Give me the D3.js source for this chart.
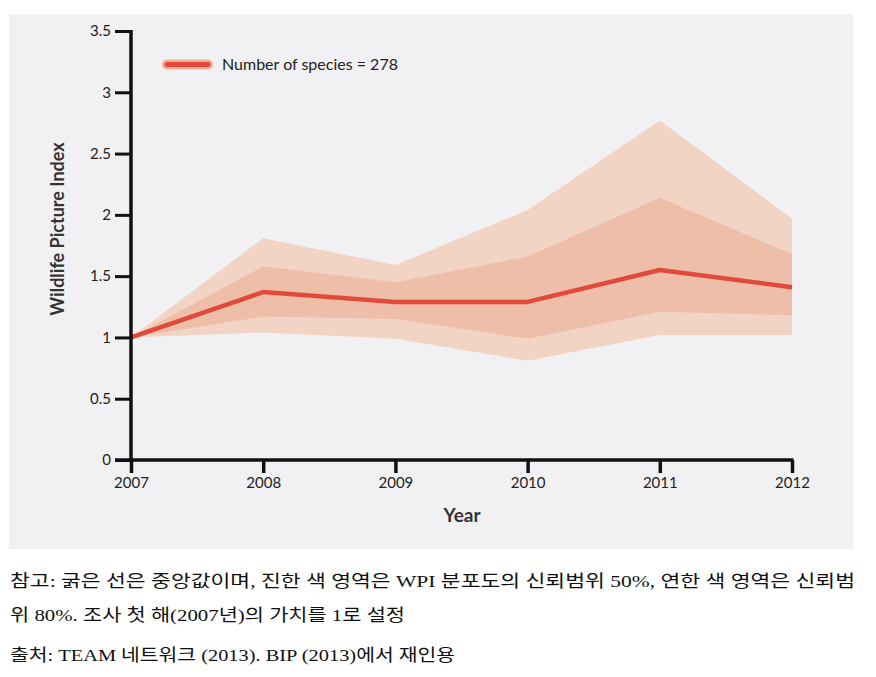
<!DOCTYPE html>
<html><head><meta charset="utf-8">
<script src="https://cdn.jsdelivr.net/npm/d3@7"></script>
<style>body{margin:0;background:#fff}svg{display:block}</style>
</head><body>
<svg id="c" width="876" height="677"></svg>
<script>
const years = [2007, 2008, 2009, 2010, 2011, 2012];
const median = [1.0, 1.37, 1.29, 1.29, 1.55, 1.41];
const inner50Low = [1.0, 1.17, 1.15, 0.99, 1.21, 1.18];
const inner50High = [1.0, 1.58, 1.45, 1.66, 2.14, 1.68];
const outer80Low = [1.0, 1.04, 0.99, 0.81, 1.02, 1.02];
const outer80High = [1.0, 1.81, 1.59, 2.04, 2.77, 1.97];
const yTicks = [0, 0.5, 1, 1.5, 2, 2.5, 3, 3.5];
const yTickLabels = ["0", "0.5", "1", "1.5", "2", "2.5", "3", "3.5"];
const legendLabel = "Number of species = 278";
const xTitle = "Year";
const yTitle = "Wildlife Picture Index";
const notes = [
  "참고: 굵은 선은 중앙값이며, 진한 색 영역은 WPI 분포도의 신뢰범위 50%, 연한 색 영역은 신뢰범",
  "위 80%. 조사 첫 해(2007년)의 가치를 1로 설정",
  "출처: TEAM 네트워크 (2013). BIP (2013)에서 재인용"
];

const svg = d3.select("#c");
const chartFont = "Lato, 'DejaVu Sans', sans-serif";
svg.append("rect").attr("x", 9).attr("y", 14).attr("width", 844).attr("height", 535).attr("fill", "#f1f1f3");

const x = d3.scaleLinear().domain([2007, 2012]).range([131, 792]);
const y = d3.scaleLinear().domain([0, 3.5]).range([460, 31]);

const data = years.map((yr, i) => ({yr, m: median[i], il: inner50Low[i], ih: inner50High[i], ol: outer80Low[i], oh: outer80High[i]}));

svg.append("path").datum(data).attr("fill", "#f2d4c5")
  .attr("d", d3.area().x(d => x(d.yr)).y0(d => y(d.ol)).y1(d => y(d.oh)));
svg.append("path").datum(data).attr("fill", "#efbea9")
  .attr("d", d3.area().x(d => x(d.yr)).y0(d => y(d.il)).y1(d => y(d.ih)));
svg.append("path").datum(data).attr("fill", "none").attr("stroke", "#e14a3a").attr("stroke-width", 4.5)
  .attr("stroke-linejoin", "round")
  .attr("d", d3.line().x(d => x(d.yr)).y(d => y(d.m)));

// y axis
const ya = svg.append("g").attr("transform", "translate(131,0)")
  .call(d3.axisLeft(y).tickValues(yTicks).tickFormat((d, i) => yTickLabels[i]).tickSize(16).tickPadding(4));
ya.select(".domain").attr("stroke", "#111").attr("stroke-width", 3.5).attr("d", "M0,30V461.5");
ya.selectAll(".tick line").attr("stroke", "#111").attr("stroke-width", 3);
ya.selectAll(".tick text").attr("font-family", chartFont).attr("font-size", 15).attr("fill", "#222");

// x axis
const xa = svg.append("g").attr("transform", "translate(0,460)")
  .call(d3.axisBottom(x).tickValues(years).tickFormat(d3.format("d")).tickSize(13).tickPadding(4));
xa.select(".domain").attr("stroke", "#111").attr("stroke-width", 3.5).attr("d", "M115,0H793.5");
xa.selectAll(".tick line").attr("stroke", "#111").attr("stroke-width", 3.5);
xa.selectAll(".tick text").attr("font-family", chartFont).attr("font-size", 15).attr("fill", "#222");

svg.append("text").attr("x", 462).attr("y", 522).attr("text-anchor", "middle")
  .attr("font-family", chartFont).attr("font-weight", "bold").attr("font-size", 19).attr("fill", "#333").text(xTitle);
svg.append("text").attr("transform", "translate(64,229) rotate(-90)").attr("text-anchor", "middle")
  .attr("font-family", chartFont).attr("font-weight", "bold").attr("font-size", 18).attr("fill", "#333").text(yTitle);

// legend
svg.append("line").attr("x1", 167).attr("x2", 208).attr("y1", 64.5).attr("y2", 64.5)
  .attr("stroke", "#efae98").attr("stroke-width", 10).attr("stroke-linecap", "round");
svg.append("line").attr("x1", 167).attr("x2", 208).attr("y1", 64.5).attr("y2", 64.5)
  .attr("stroke", "#e14a3a").attr("stroke-width", 5).attr("stroke-linecap", "round");
svg.append("text").attr("x", 222).attr("y", 70).attr("font-family", chartFont).attr("font-size", 16)
  .attr("fill", "#222").text(legendLabel);

// notes
const noteFont = "'Liberation Serif', 'Noto Sans CJK KR', serif";
const ny = [587, 621, 661];
const nw = [845, 395, 445];
notes.forEach((t, i) => {
  svg.append("text").attr("x", 10).attr("y", ny[i]).attr("font-family", noteFont)
    .attr("font-size", 17).attr("fill", "#111").text(t)
    .attr("textLength", nw[i]).attr("lengthAdjust", "spacingAndGlyphs");
});
</script>
</body></html>
